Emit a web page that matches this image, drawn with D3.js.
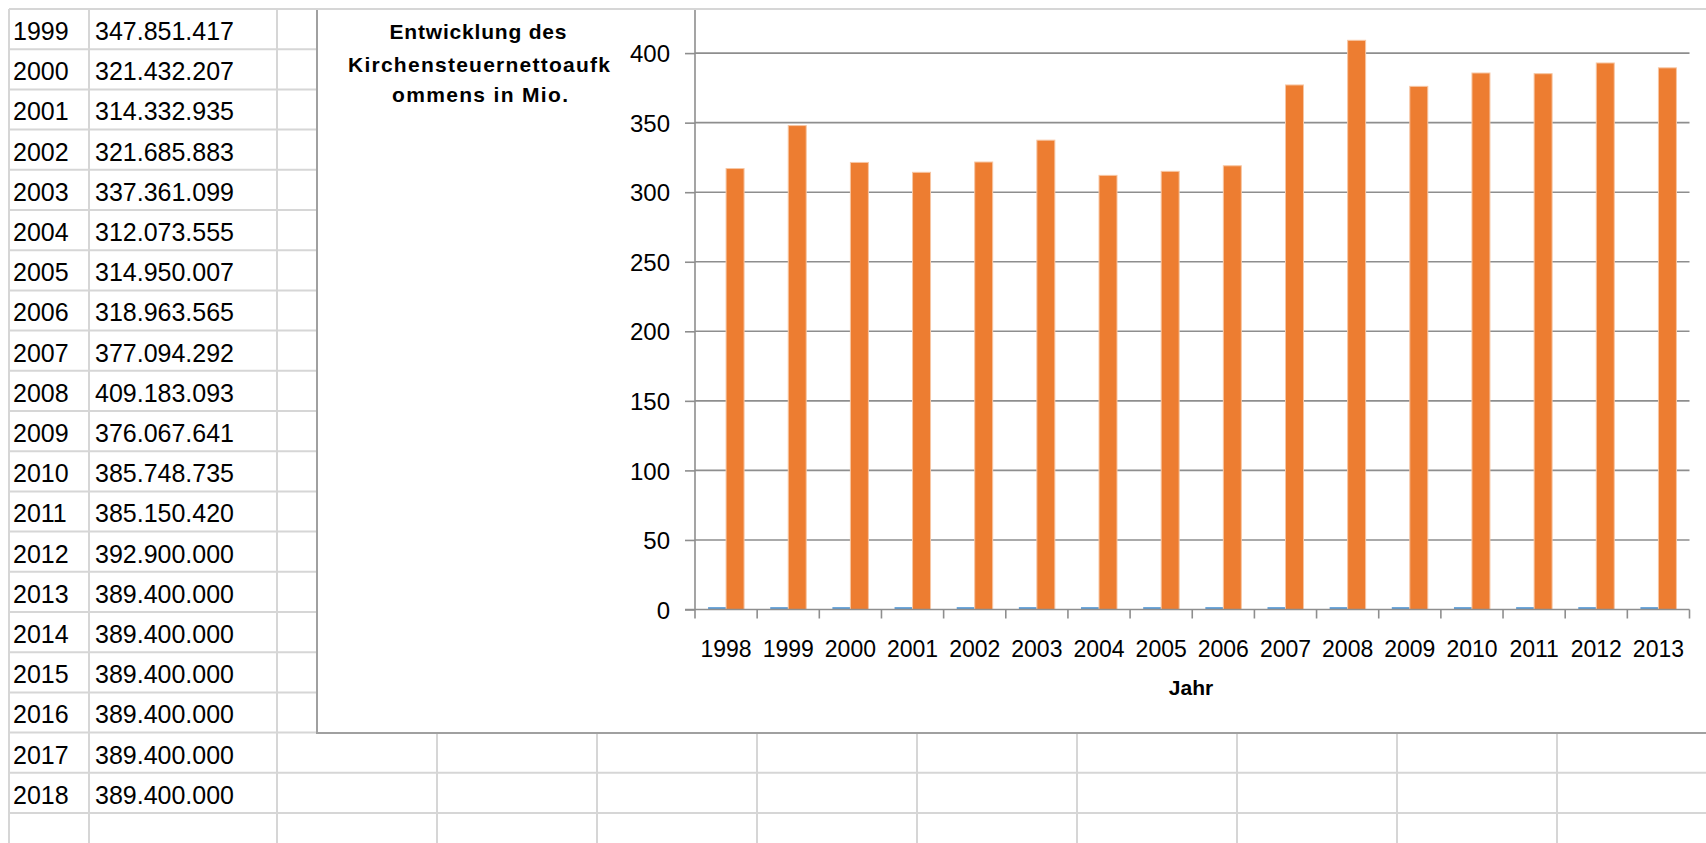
<!DOCTYPE html>
<html>
<head>
<meta charset="utf-8">
<script src="https://cdn.jsdelivr.net/npm/d3@7/dist/d3.min.js"></script>
<style>
  html, body { margin: 0; padding: 0; background: #fff; }
  svg { display: block; font-family: "Liberation Sans", Arial, sans-serif; }
</style>
</head>
<body>
<svg id="c" width="1706" height="843"></svg>
<script>
// ---- data ----
const tableYears = ["1999","2000","2001","2002","2003","2004","2005","2006","2007","2008",
                    "2009","2010","2011","2012","2013","2014","2015","2016","2017","2018"];
const tableValues = ["347.851.417","321.432.207","314.332.935","321.685.883","337.361.099",
                     "312.073.555","314.950.007","318.963.565","377.094.292","409.183.093",
                     "376.067.641","385.748.735","385.150.420","392.900.000","389.400.000",
                     "389.400.000","389.400.000","389.400.000","389.400.000","389.400.000"];
const chartYears = ["1998","1999","2000","2001","2002","2003","2004","2005",
                    "2006","2007","2008","2009","2010","2011","2012","2013"];
const blueValues = [1.7,1.7,1.7,1.7,1.7,1.7,1.7,1.7,1.7,1.7,1.7,1.7,1.7,1.7,1.7,1.7];
const orangeValues = [317.0,347.9,321.4,314.3,321.7,337.4,312.1,315.0,
                      319.0,377.1,409.2,376.1,385.7,385.2,392.9,389.4];
const yTicks = [0,50,100,150,200,250,300,350,400];
const titleLines = ["Entwicklung des","Kirchensteuernettoaufk","ommens in Mio."];
const xAxisTitle = "Jahr";

// ---- drawing ----
const svg = d3.select("#c");
const W = 1706, H = 843;
const gridColor = "#d6d6d6";

// spreadsheet grid
const rowTop = 9, rowH = 40.2, nRows = 21;
const colLines = [9, 89, 277, 437, 597, 757, 917, 1077, 1237, 1397, 1557];
const grid = svg.append("g");
d3.range(nRows + 1).forEach(i => {
  const y = rowTop + i * rowH;
  grid.append("line").attr("x1", 9).attr("x2", W).attr("y1", y).attr("y2", y)
    .attr("stroke", gridColor).attr("stroke-width", 2);
});
colLines.forEach(x => {
  grid.append("line").attr("x1", x).attr("x2", x).attr("y1", rowTop).attr("y2", H)
    .attr("stroke", gridColor).attr("stroke-width", 2);
});

// table text
const tbl = svg.append("g").attr("font-size", 25).attr("fill", "#000");
tableYears.forEach((yr, i) => {
  const base = rowTop + i * rowH + 31;
  tbl.append("text").attr("x", 13).attr("y", base).text(yr);
  tbl.append("text").attr("x", 95).attr("y", base).text(tableValues[i]);
});

// chart object
svg.append("defs").append("clipPath").attr("id", "chartClip")
  .append("rect").attr("x", 316).attr("y", 10).attr("width", 1400).attr("height", 724);

const chart = svg.append("g").attr("clip-path", "url(#chartClip)");
chart.append("rect").attr("x", 317).attr("y", -10).attr("width", 1500).attr("height", 743)
  .attr("fill", "#fff").attr("stroke", "#a0a0a0").attr("stroke-width", 2);

const x0 = 695, x1 = 1689.5, yZero = 609.5, pxPerUnit = 1.391;
const x = d3.scaleBand().domain(chartYears).range([x0, x1]).paddingInner(0).paddingOuter(0);
const xs = d3.scaleBand().domain(["blue","orange"]).range([0, x.bandwidth()])
  .paddingInner(0).paddingOuter(0.727);
const y = d3.scaleLinear().domain([0, 450]).range([yZero, yZero - 450 * pxPerUnit]);

// gridlines
chart.append("g").selectAll("line").data(yTicks.filter(d => d > 0)).join("line")
  .attr("x1", x0).attr("x2", x1).attr("y1", d => y(d)).attr("y2", d => y(d))
  .attr("stroke", "#8e8e8e").attr("stroke-width", 1.6);

// bars
const barG = chart.append("g");
barG.selectAll("rect.b").data(chartYears).join("rect").attr("class", "b")
  .attr("x", d => x(d) + xs("blue")).attr("width", xs.bandwidth())
  .attr("y", (d, i) => y(blueValues[i])).attr("height", (d, i) => y(0) - y(blueValues[i]))
  .attr("fill", "#5B9BD5");
barG.selectAll("rect.o").data(chartYears).join("rect").attr("class", "o")
  .attr("x", d => x(d) + xs("orange")).attr("width", xs.bandwidth())
  .attr("y", (d, i) => y(orangeValues[i])).attr("height", (d, i) => y(0) - y(orangeValues[i]))
  .attr("fill", "#ED7D31").attr("stroke", "#f7c6a3").attr("stroke-width", 1);

// y axis
const yAxis = d3.axisLeft(y).tickValues(yTicks).tickSize(10).tickPadding(15)
  .tickFormat(d3.format("d"));
const yg = chart.append("g").attr("transform", `translate(${x0},0)`).call(yAxis);
yg.select(".domain").attr("d", `M-0,${y(0)}V${y(450)}`).attr("stroke", "#8e8e8e").attr("stroke-width", 1.6);
yg.selectAll(".tick line").attr("stroke", "#8e8e8e").attr("stroke-width", 1.6);
yg.selectAll(".tick text").attr("font-size", 24).attr("fill", "#000")
  .attr("font-family", "Liberation Sans, Arial, sans-serif").attr("dy", "0.36em");

// x axis
const xg = chart.append("g").attr("transform", `translate(0,${yZero})`)
  .call(d3.axisBottom(x).tickSize(0).tickPadding(0));
xg.select(".domain").remove();
xg.append("line").attr("x1", x0 - 10).attr("x2", x1).attr("y1", 0).attr("y2", 0)
  .attr("stroke", "#8e8e8e").attr("stroke-width", 1.6);
const boundaries = chartYears.map(d => x(d)).concat([x1]);
xg.selectAll("line.tk").data(boundaries).join("line").attr("class", "tk")
  .attr("x1", d => d).attr("x2", d => d).attr("y1", 0).attr("y2", 9)
  .attr("stroke", "#8e8e8e").attr("stroke-width", 1.6);
xg.selectAll(".tick text").attr("font-size", 23).attr("fill", "#000")
  .attr("font-family", "Liberation Sans, Arial, sans-serif")
  .attr("y", 47.5).attr("dy", 0);

// title
const titleBases = [39, 72, 102];
const titleCenters = [478, 479, 480];
const titleWidths = [177, 262, 176];
titleLines.forEach((t, i) => {
  chart.append("text").attr("x", titleCenters[i]).attr("y", titleBases[i])
    .attr("text-anchor", "middle").attr("font-weight", "bold").attr("font-size", 21)
    .attr("textLength", titleWidths[i]).attr("lengthAdjust", "spacing")
    .attr("fill", "#000").text(t);
});

// x axis title
chart.append("text").attr("x", 1191).attr("y", 695).attr("text-anchor", "middle")
  .attr("font-weight", "bold").attr("font-size", 21).attr("fill", "#000").text(xAxisTitle);
</script>
</body>
</html>
